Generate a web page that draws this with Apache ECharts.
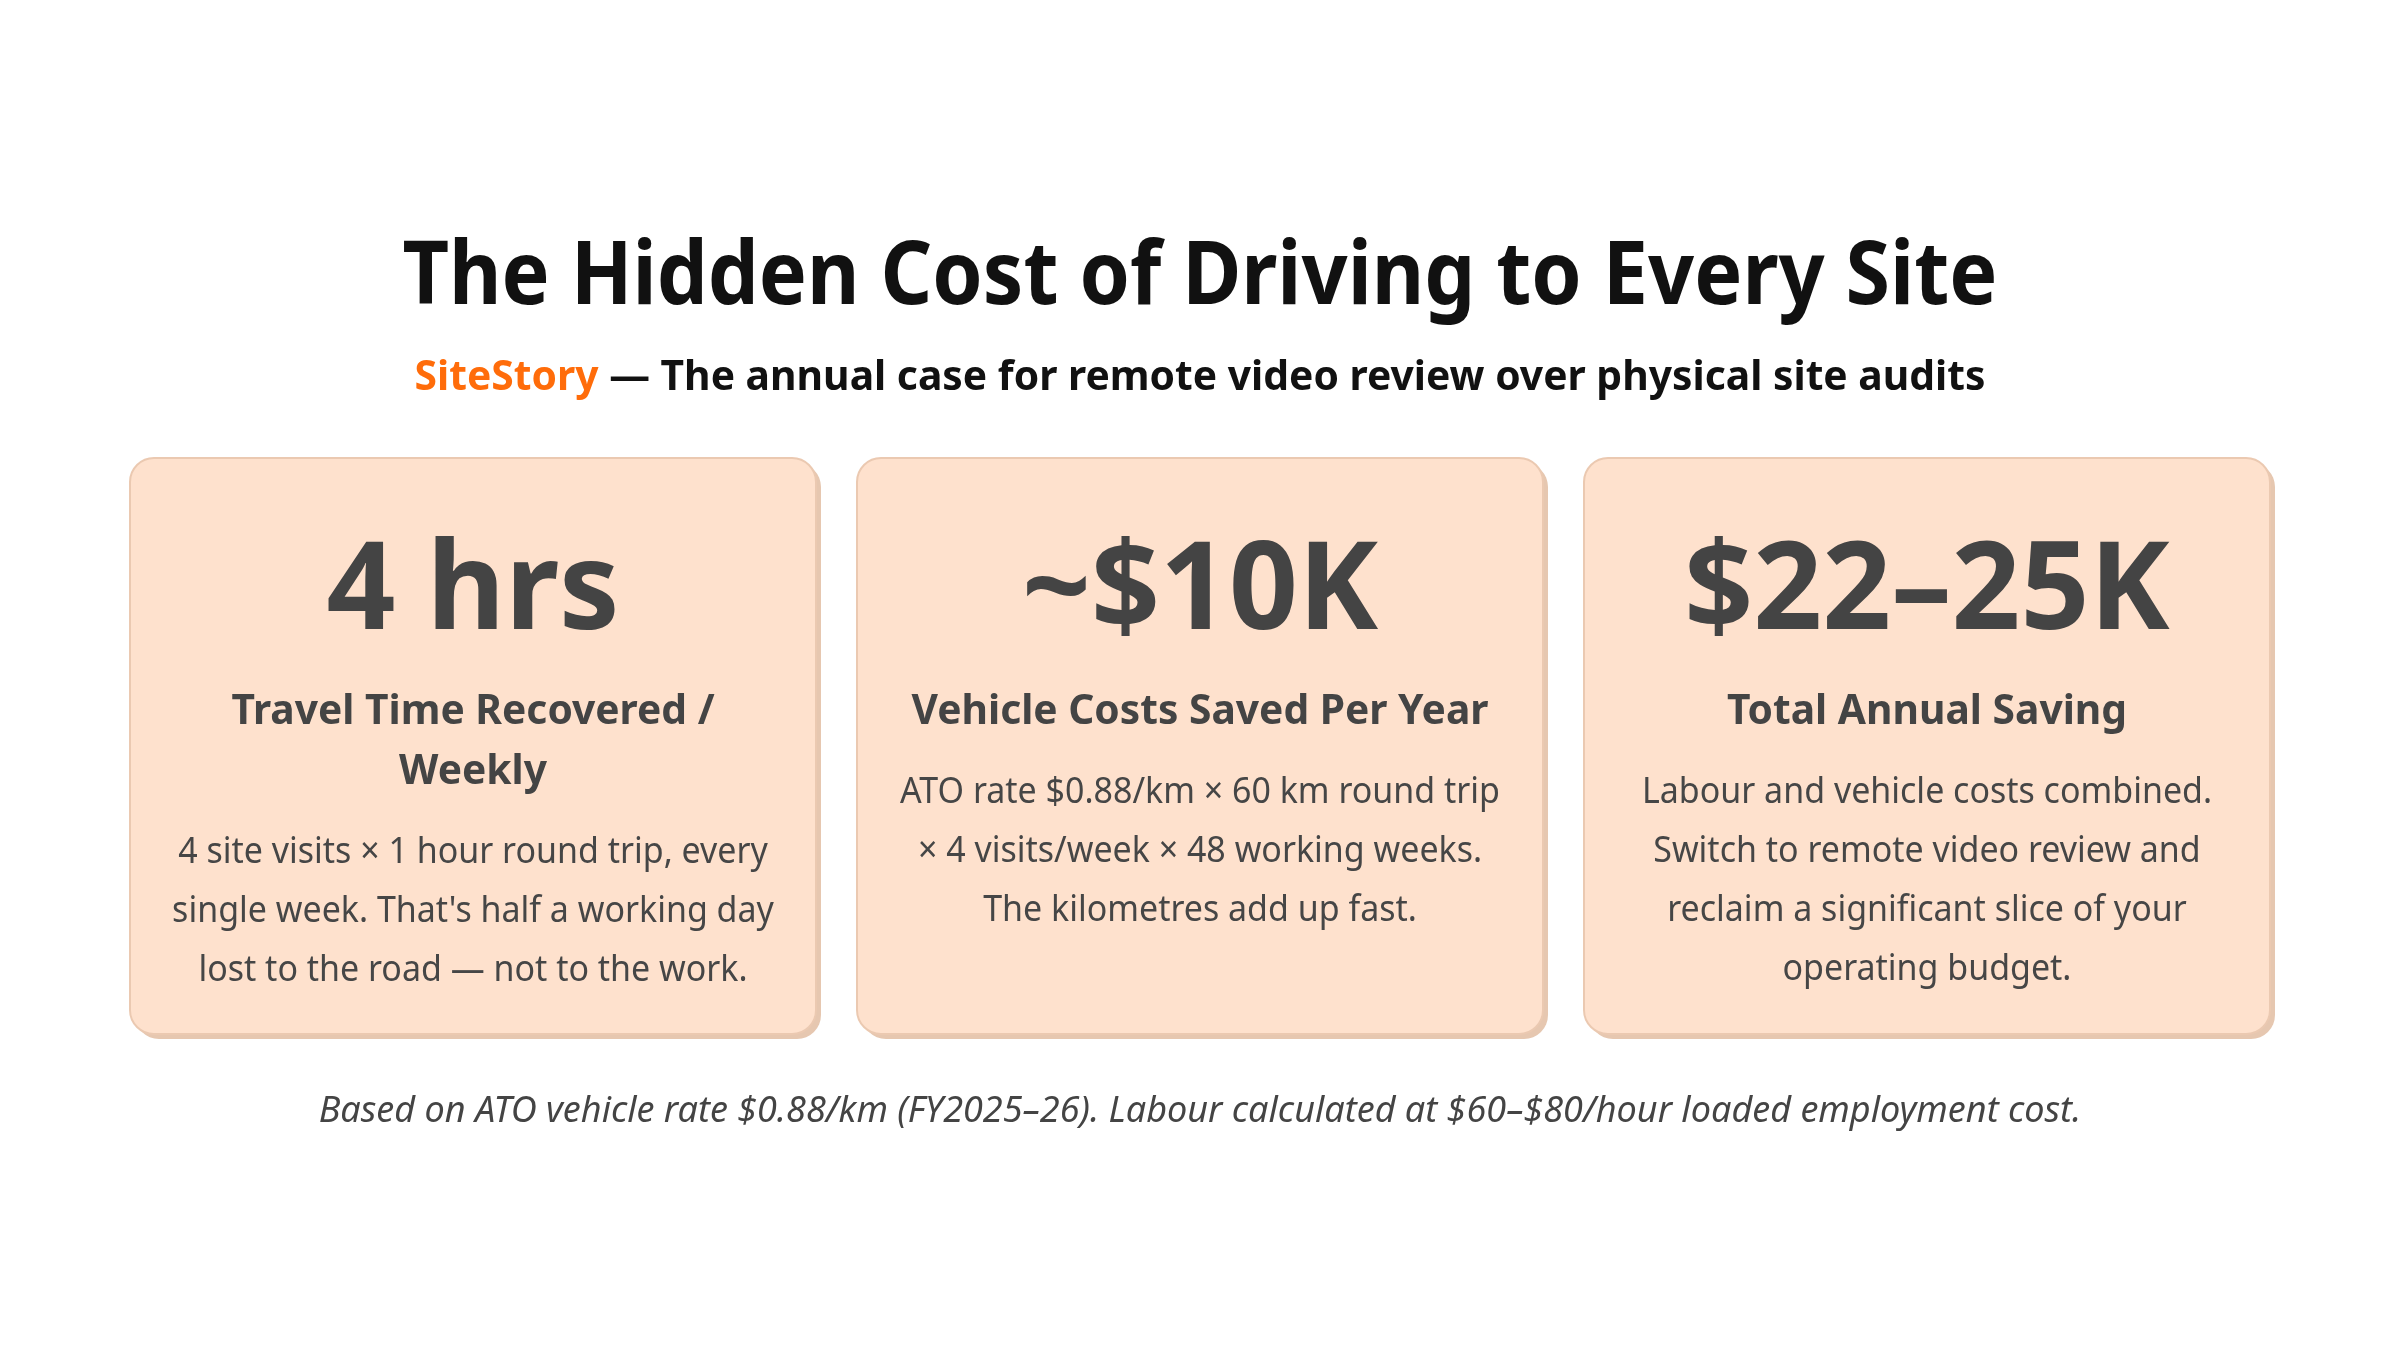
<!DOCTYPE html>
<html>
<head>
<meta charset="utf-8">
<script src="https://cdn.jsdelivr.net/npm/echarts@6/dist/echarts.min.js"></script>
<style>
html,body{margin:0;padding:0;background:#ffffff;}
#chart{width:2400px;height:1350px;}
</style>
</head>
<body>
<div id="chart"></div>
<script>
// ---- content ----
const titleText = 'The Hidden Cost of Driving to Every Site';
const subtitleBrand = 'SiteStory';
const subtitleText = ' \u2014 The annual case for remote video review over physical site audits';
const cardValues = ['4 hrs', '~$10K', '$22\u201325K'];
const cardTitles = [
  ['Travel Time Recovered /', 'Weekly'],
  ['Vehicle Costs Saved Per Year'],
  ['Total Annual Saving']
];
const cardDescriptions = [
  ['4 site visits \u00d7 1 hour round trip, every', "single week. That's half a working day", 'lost to the road \u2014 not to the work.'],
  ['ATO rate $0.88/km \u00d7 60 km round trip', '\u00d7 4 visits/week \u00d7 48 working weeks.', 'The kilometres add up fast.'],
  ['Labour and vehicle costs combined.', 'Switch to remote video review and', 'reclaim a significant slice of your', 'operating budget.']
];
const footnoteText = 'Based on ATO vehicle rate $0.88/km (FY2025\u201326). Labour calculated at $60\u2013$80/hour loaded employment cost.';

// ---- layout / style ----
const FAMILY = '"Noto Sans", "DejaVu Sans", sans-serif';
const canvas = document.createElement('canvas');
const ctx = canvas.getContext('2d');
function fontStr(style, weight, size) { return style + ' ' + weight + ' ' + size + 'px ' + FAMILY; }
function measure(text, style, weight, size) { ctx.font = fontStr(style, weight, size); return ctx.measureText(text).width; }
function fitScale(text, style, weight, size, target) { return Math.min(1, target / measure(text, style, weight, size)); }

const S = {
  title:   {size: 88, weight: 'bold',   style: 'normal', color: '#111111'},
  sub:     {size: 41, weight: 'bold',   style: 'normal', color: '#111111'},
  value:   {size: 122, weight: 'bold',  style: 'normal', color: '#444444'},
  ctitle:  {size: 42, weight: 'bold',   style: 'normal', color: '#444444'},
  desc:    {size: 36, weight: 'normal', style: 'normal', color: '#464646'},
  foot:    {size: 36, weight: 'normal', style: 'italic', color: '#444444'}
};
S.title.sx = fitScale(titleText, 'normal', 'bold', S.title.size, 1595);
S.sub.sx = fitScale(subtitleBrand + subtitleText, 'normal', 'bold', S.sub.size, 1571);
S.value.sx = fitScale(cardValues[1], 'normal', 'bold', S.value.size, 356);
S.ctitle.sx = fitScale(cardTitles[1][0], 'normal', 'bold', S.ctitle.size, 577);
S.desc.sx = fitScale(cardDescriptions[1][0], 'normal', 'normal', S.desc.size, 600);
S.foot.sx = fitScale(footnoteText, 'italic', 'normal', S.foot.size, 1769);

function textEl(text, cx, cy, st, extra) {
  const style = Object.assign({
    text: text, x: 0, y: 0,
    align: 'center', verticalAlign: 'middle',
    textAlign: 'center', textVerticalAlign: 'middle',
    fontSize: st.size, fontWeight: st.weight, fontStyle: st.style,
    fontFamily: FAMILY, fill: st.color
  }, extra || {});
  return {type: 'text', x: cx, y: cy, scaleX: st.sx, scaleY: 1, z: 10, style: style};
}

const elements = [];
elements.push(textEl(titleText, 1200, 279, S.title));
elements.push(textEl('{o|' + subtitleBrand + '}{b|' + subtitleText + '}', 1200, 378, S.sub, {
  rich: {
    o: {fill: '#ff6c0a', fontSize: S.sub.size, fontWeight: 'bold', fontFamily: FAMILY},
    b: {fill: '#111111', fontSize: S.sub.size, fontWeight: 'bold', fontFamily: FAMILY}
  }
}));

const cardW = 686, cardH = 576, cardGap = 41, cardTop = 458, cardLeft0 = 130;
cardValues.forEach(function (val, i) {
  const x = cardLeft0 + i * (cardW + cardGap);
  const cx = x + cardW / 2;
  elements.push({type: 'rect', z: 1, shape: {x: x + 5, y: cardTop + 5, width: cardW, height: cardH, r: 24},
    style: {fill: '#e6c7b0'}});
  elements.push({type: 'rect', z: 2, shape: {x: x, y: cardTop, width: cardW, height: cardH, r: 24},
    style: {fill: '#fee1cd', stroke: '#ebc9b1', lineWidth: 2}});
  elements.push(textEl(val, cx, 594, S.value));
  let y = 712;
  cardTitles[i].forEach(function (line, k) {
    y = 712 + k * 60;
    elements.push(textEl(line, cx, y, S.ctitle));
  });
  const descStart = y + 81;
  cardDescriptions[i].forEach(function (line, k) {
    elements.push(textEl(line, cx, descStart + k * 59, S.desc));
  });
});

elements.push(textEl(footnoteText, 1200, 1112, S.foot));

const chart = echarts.init(document.getElementById('chart'), null, {renderer: 'canvas'});
chart.setOption({
  backgroundColor: '#ffffff',
  animation: false,
  graphic: {elements: elements}
});
</script>
</body>
</html>
